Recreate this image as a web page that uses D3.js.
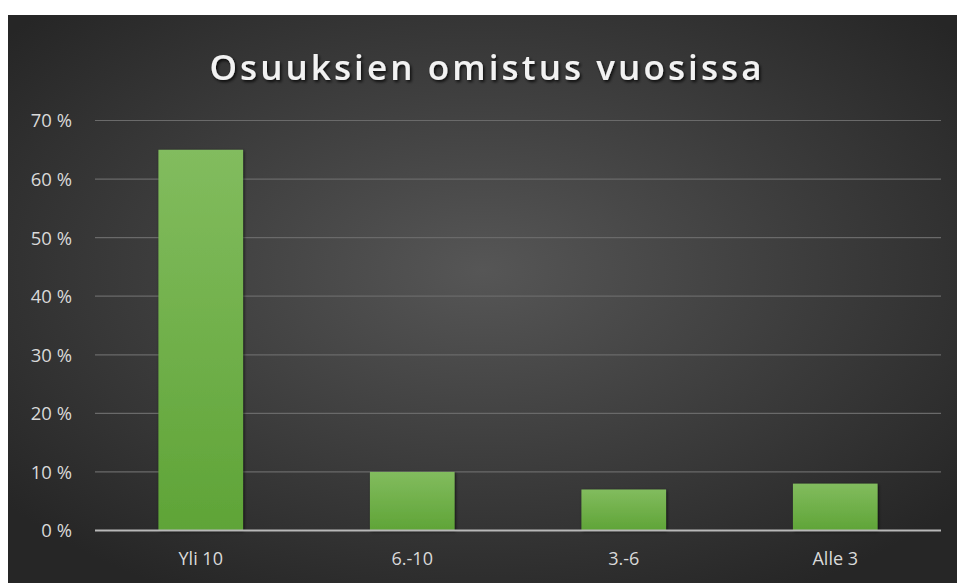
<!DOCTYPE html>
<html><head><meta charset="utf-8">
<script src="https://cdn.jsdelivr.net/npm/d3@7"></script>
<style>
html,body{margin:0;padding:0;background:#fff;}
svg{display:block;}
</style></head>
<body>
<svg id="chart" width="957" height="583"></svg>
<script>
const categories = ["Yli 10", "6.-10", "3.-6", "Alle 3"];
const values = [65, 10, 7, 8];
const yTicks = [0, 10, 20, 30, 40, 50, 60, 70];
const title = "Osuuksien omistus vuosissa";

const svg = d3.select("#chart");
const defs = svg.append("defs");

const bg = defs.append("radialGradient").attr("id", "bg")
  .attr("cx", "50%").attr("cy", "45%").attr("r", "65%");
bg.append("stop").attr("offset", "0%").attr("stop-color", "#565656");
bg.append("stop").attr("offset", "100%").attr("stop-color", "#262626");

const barG = defs.append("linearGradient").attr("id", "barG")
  .attr("x1", 0).attr("y1", 0).attr("x2", 0).attr("y2", 1);
barG.append("stop").attr("offset", "0%").attr("stop-color", "#82bc5e");
barG.append("stop").attr("offset", "100%").attr("stop-color", "#5fa437");

const shadow = defs.append("filter").attr("id", "shadow")
  .attr("x", "-10%").attr("y", "-10%").attr("width", "130%").attr("height", "130%");
shadow.append("feDropShadow").attr("dx", 1).attr("dy", 1).attr("stdDeviation", 1.5)
  .attr("flood-color", "#000").attr("flood-opacity", 0.7);

const tshadow = defs.append("filter").attr("id", "tshadow")
  .attr("x", "-10%").attr("y", "-30%").attr("width", "120%").attr("height", "160%");
tshadow.append("feDropShadow").attr("dx", 1.5).attr("dy", 2).attr("stdDeviation", 1.5)
  .attr("flood-color", "#000").attr("flood-opacity", 0.8);

svg.append("rect").attr("x", 8).attr("y", 15).attr("width", 949).attr("height", 568)
  .attr("fill", "url(#bg)");

const margin = {left: 95, right: 16, top: 120.5, bottom: 52.5};
const W = 957, H = 583;

const x = d3.scaleBand().domain(categories)
  .range([margin.left, W - margin.right]).paddingInner(0.6).paddingOuter(0.3);
const y = d3.scaleLinear().domain([0, 70]).range([H - margin.bottom, margin.top]);

// gridlines
svg.append("g").selectAll("line").data(yTicks.filter(d => d > 0)).join("line")
  .attr("x1", margin.left).attr("x2", W - margin.right)
  .attr("y1", d => y(d)).attr("y2", d => y(d))
  .attr("stroke", "#6a6a6a").attr("stroke-width", 1.2);

// bars
svg.append("g").selectAll("rect").data(values).join("rect")
  .attr("x", (d, i) => x(categories[i]))
  .attr("width", x.bandwidth())
  .attr("y", d => y(d))
  .attr("height", d => y(0) - y(d))
  .attr("fill", "url(#barG)")
  .attr("filter", "url(#shadow)");

// baseline
svg.append("line").attr("x1", margin.left).attr("x2", W - margin.right)
  .attr("y1", y(0)).attr("y2", y(0)).attr("stroke", "#b8b8b8").attr("stroke-width", 2);

const lblFont = "'Open Sans', 'Noto Sans', sans-serif";

// y axis labels
const yAxis = d3.axisLeft(y).tickValues(yTicks).tickSize(0).tickPadding(0)
  .tickFormat(d => d + " %");
const ya = svg.append("g").attr("transform", "translate(72,0)").call(yAxis);
ya.select(".domain").remove();
ya.attr("font-size", null).attr("font-family", null);
ya.selectAll("text").attr("fill", "#d9d9d9").style("font-size", "18.5px")
  .style("font-family", lblFont).attr("dy", "0.35em");

// x axis labels
const xAxis = d3.axisBottom(x).tickSize(0).tickPadding(0);
const xa = svg.append("g").attr("transform", `translate(0,${y(0) + 19})`).call(xAxis);
xa.select(".domain").remove();
xa.attr("font-size", null).attr("font-family", null);
xa.selectAll("text").attr("fill", "#d9d9d9").style("font-size", "18px")
  .style("font-family", lblFont).attr("dy", "0.85em");

// title
svg.append("text").attr("x", 487).attr("y", 80).attr("text-anchor", "middle")
  .attr("fill", "#f2f2f2").style("font-size", "35px").attr("font-weight", 600)
  .attr("letter-spacing", 3.1)
  .style("font-family", lblFont)
  .attr("filter", "url(#tshadow)")
  .text(title);
</script>
</body></html>
